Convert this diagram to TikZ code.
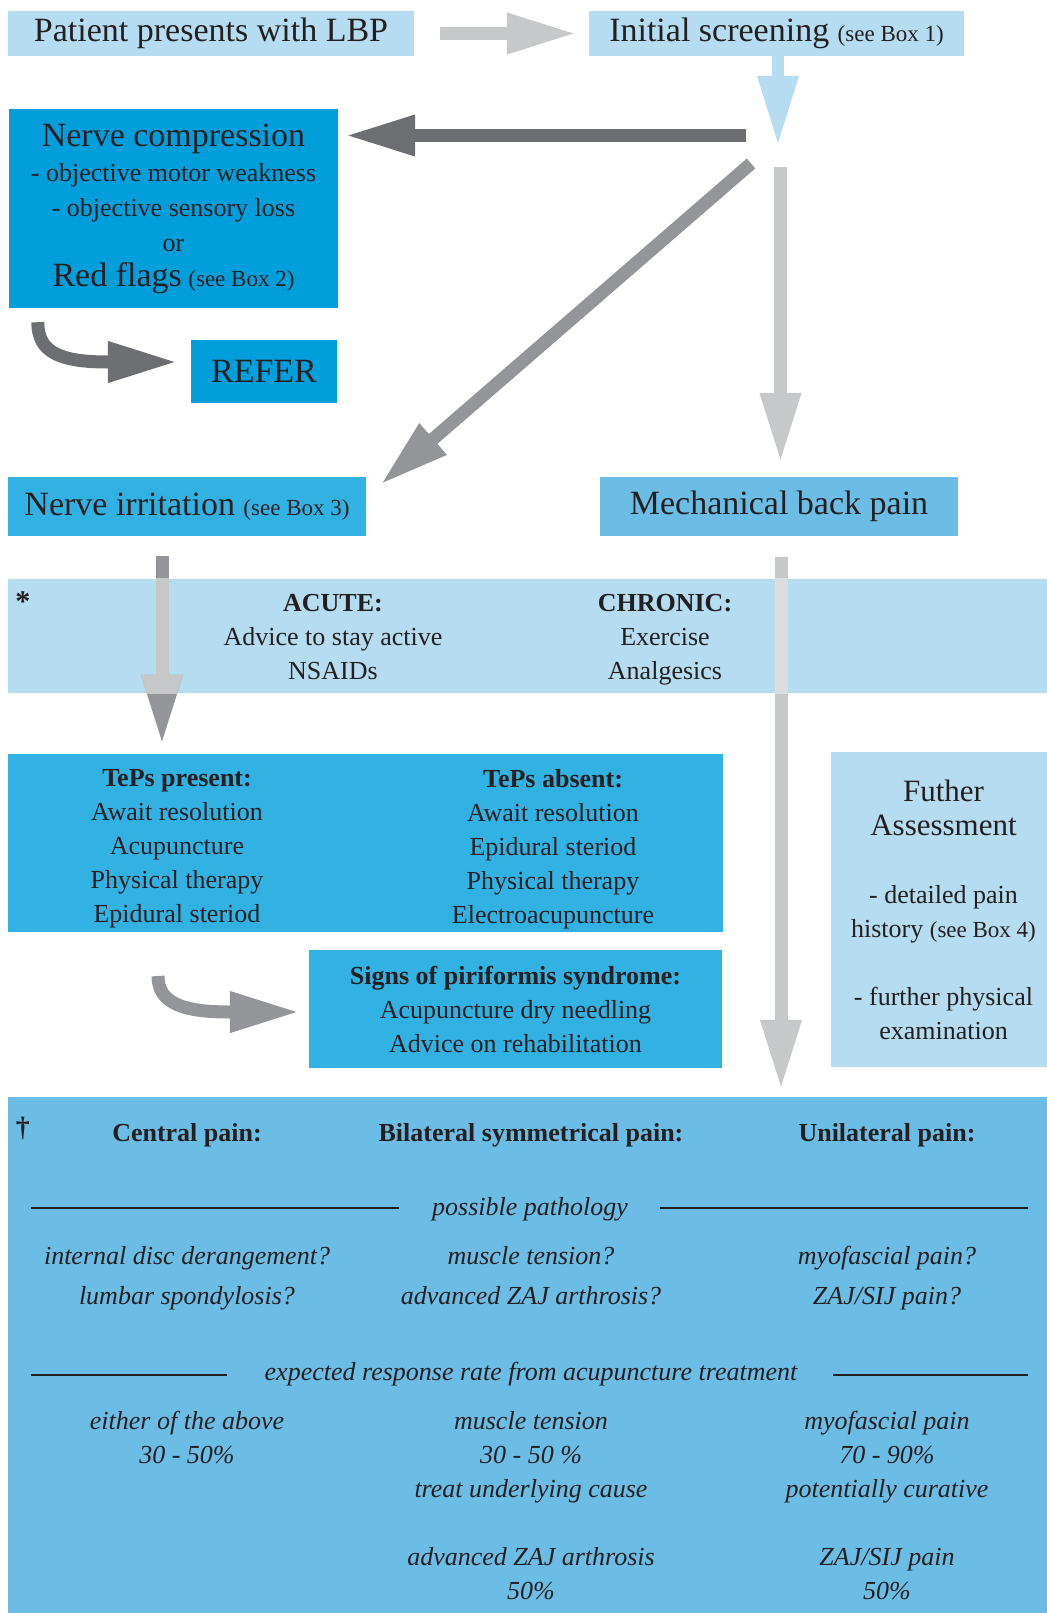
\documentclass[tikz,border=0pt]{standalone}
\usepackage{fontspec}
\setmainfont{Liberation Serif}
\usepackage{xcolor}
\usepackage{tikz}
\usetikzlibrary{calc,arrows.meta}
\definecolor{ink}{HTML}{231F20}
\definecolor{pale}{HTML}{B5DCF0}
\definecolor{deep}{HTML}{009FDB}
\definecolor{mid}{HTML}{31B2E3}
\definecolor{soft}{HTML}{6BBDE5}
\definecolor{greyd}{HTML}{6D6E71}
\definecolor{greym}{HTML}{939598}
\definecolor{greyl}{HTML}{C7C8CA}
\definecolor{greymband}{HTML}{C6C7C9}
\definecolor{greylband}{HTML}{DCDDDE}
\newcommand{\bigtxt}{\fontsize{34}{35}\selectfont}
\newcommand{\midtxt}{\fontsize{26}{34}\selectfont}
\newcommand{\smalltxt}{\fontsize{23}{28}\selectfont}
\newcommand{\furtxt}{\fontsize{31}{34}\selectfont}
\tikzset{
  box/.style={rectangle, inner sep=0pt, text=ink, align=center},
  title/.style={box, font=\bigtxt},
  body/.style={box, font=\midtxt},
  head/.style={box, font=\midtxt\bfseries},
  note/.style={box, font=\midtxt\itshape},
  rule/.style={draw=ink, line width=2.5pt},
  flow/.style={line width=13pt, -{Triangle[width=38pt,length=70pt]}},
}

\begin{document}
\begin{tikzpicture}[x=1pt, y=-1pt]
  \useasboundingbox (0,0) rectangle (1046,1613);

  \node[title, fill=pale, minimum width=406pt, minimum height=45pt] (patient) at (211,33.5) {Patient presents with LBP};
  \node[title, fill=pale, minimum width=375pt, minimum height=45pt] (screen) at (776.5,33.5) {Initial screening {\smalltxt(see Box 1)}};
  \node[box, fill=deep, minimum width=329pt, minimum height=199pt, font=\fontsize{26}{35}\selectfont] (compress) at (173.5,208.5)
    {{\bigtxt Nerve compression}\\- objective motor weakness\\- objective sensory loss\\or\\{\bigtxt Red flags} {\smalltxt(see Box 2)}};
  \node[title, fill=deep, minimum width=146pt, minimum height=63pt] (refer) at (264,371.5) {REFER};
  \node[title, fill=mid, minimum width=358pt, minimum height=59pt] (irritate) at (187,506.5) {Nerve irritation {\smalltxt(see Box 3)}};
  \node[title, fill=soft, minimum width=358pt, minimum height=59pt] (mech) at (779,506.5) {Mechanical back pain};
  \node[box, fill=pale, minimum width=1048pt, minimum height=114pt] (band) at (532,636) {};
  \node[box, fill=mid, minimum width=715pt, minimum height=178pt] (teps) at (365.5,843) {};
  \node[body, fill=mid, minimum width=413pt, minimum height=118pt] (pirif) at (515.5,1009)
    {\textbf{Signs of piriformis syndrome:}\\Acupuncture dry needling\\Advice on rehabilitation};
  \node[body, fill=pale, minimum width=225pt, minimum height=315pt] (further) at (943.5,909.5)
    {{\furtxt Futher}\\{\furtxt Assessment}\\[34pt]- detailed pain\\history {\smalltxt(see Box 4)}\\[34pt]- further physical\\examination};
  \node[box, fill=soft, minimum width=1048pt, minimum height=526pt] (bottom) at (532,1360) {};

  \coordinate (split) at (778,146);
  \coordinate (tocomp) at (746,135.5);
  \coordinate (todiag) at (751,163.5);
  \coordinate (tomech) at (780.5,167);
  \coordinate (tipdiag) at ([shift={(14,8)}]irritate.north east);
  \coordinate (irrout) at ([shift={(-25,20)}]irritate.south);
  \coordinate (mechout) at ([shift={(2,21)}]mech.south);
  \coordinate (referfrom) at ([shift={(29,14)}]compress.south west);
  \coordinate (referto) at ([shift={(-13,-9.5)}]refer.west);
  \coordinate (piriffrom) at (158,976);
  \coordinate (pirifto) at ([shift={(-9,3)}]pirif.west);

  \draw[flow, greyl, shorten <=26pt, shorten >=12pt] (patient) -- (screen);
  \draw[flow, pale, line width=12.5pt] (screen.south -| split) -- (split);
  \draw[flow, greyd, shorten >=7pt] (tocomp) -- (tocomp -| compress.east);
  \draw[flow, greym] (todiag) -- (tipdiag);
  \draw[flow, greyl, shorten >=14pt] (tomech) -- (tomech |- mech.north);
  \draw[flow, greyd] (referfrom) .. controls +(0,30) and +(-48,0) .. ([xshift=-70pt]referto) -- (referto);
  \draw[flow, greym] (piriffrom) .. controls +(0,28) and +(-45,0) .. ([xshift=-70pt]pirifto) -- (pirifto);
  \draw[flow, greym, shorten >=9pt] (irrout) -- (irrout |- teps.north);
  \draw[flow, greyl, shorten >=7pt] (mechout) -- (mechout |- bottom.north);
  \begin{scope}
    \clip (band.north west) rectangle (band.south east);
    \draw[flow, greymband, shorten >=9pt] (irrout) -- (irrout |- teps.north);
    \draw[flow, greylband, shorten >=7pt] (mechout) -- (mechout |- bottom.north);
  \end{scope}

  \node[head, font=\fontsize{30}{34}\selectfont\bfseries] (star) at (23,602) {*};
  \node[body] (acute) at (333,637) {\textbf{ACUTE:}\\Advice to stay active\\NSAIDs};
  \node[body] (chronic) at (665,640) {\textbf{CHRONIC:}\\Exercise\\Analgesics};
  \node[body] (tepsyes) at (177,849) {\textbf{TePs present:}\\Await resolution\\Acupuncture\\Physical therapy\\Epidural steriod};
  \node[body] (tepsno) at (553,849) {\textbf{TePs absent:}\\Await resolution\\Epidural steriod\\Physical therapy\\Electroacupuncture};

  \node[head, font=\fontsize{28}{34}\selectfont\bfseries] (dagger) at (23,1128) {\textdagger};
  \node[head, anchor=base] (central) at (187,1141) {Central pain:};
  \node[head, anchor=base] (bilat) at (531,1141) {Bilateral symmetrical pain:};
  \node[head, anchor=base] (unilat) at (887,1141) {Unilateral pain:};
  \node[note, anchor=base] (pathlab) at (530,1215) {possible pathology};
  \draw[rule] (31,1208) -- (399,1208);
  \draw[rule] (660,1208) -- (1028,1208);
  \node[note, font=\fontsize{26}{40}\selectfont\itshape] (centralpath) at (187,1278) {internal disc derangement?\\lumbar spondylosis?};
  \node[note, font=\fontsize{26}{40}\selectfont\itshape] (bilatpath) at (531,1276) {muscle tension?\\advanced ZAJ arthrosis?};
  \node[note, font=\fontsize{26}{40}\selectfont\itshape] (unipath) at (887,1278) {myofascial pain?\\ZAJ/SIJ pain?};
  \node[note, anchor=base] (ratelab) at (531,1380) {expected response rate from acupuncture treatment};
  \draw[rule] (31,1375) -- (227,1375);
  \draw[rule] (833,1375) -- (1028,1375);
  \node[note] (centralrate) at (187,1437) {either of the above\\30 - 50\%};
  \node[note] (bilatrate) at (531,1506) {muscle tension\\30 - 50 \%\\treat underlying cause\\[34pt]advanced ZAJ arthrosis\\50\%};
  \node[note] (unirate) at (887,1505) {myofascial pain\\70 - 90\%\\potentially curative\\[34pt]ZAJ/SIJ pain\\50\%};
\end{tikzpicture}
\end{document}
